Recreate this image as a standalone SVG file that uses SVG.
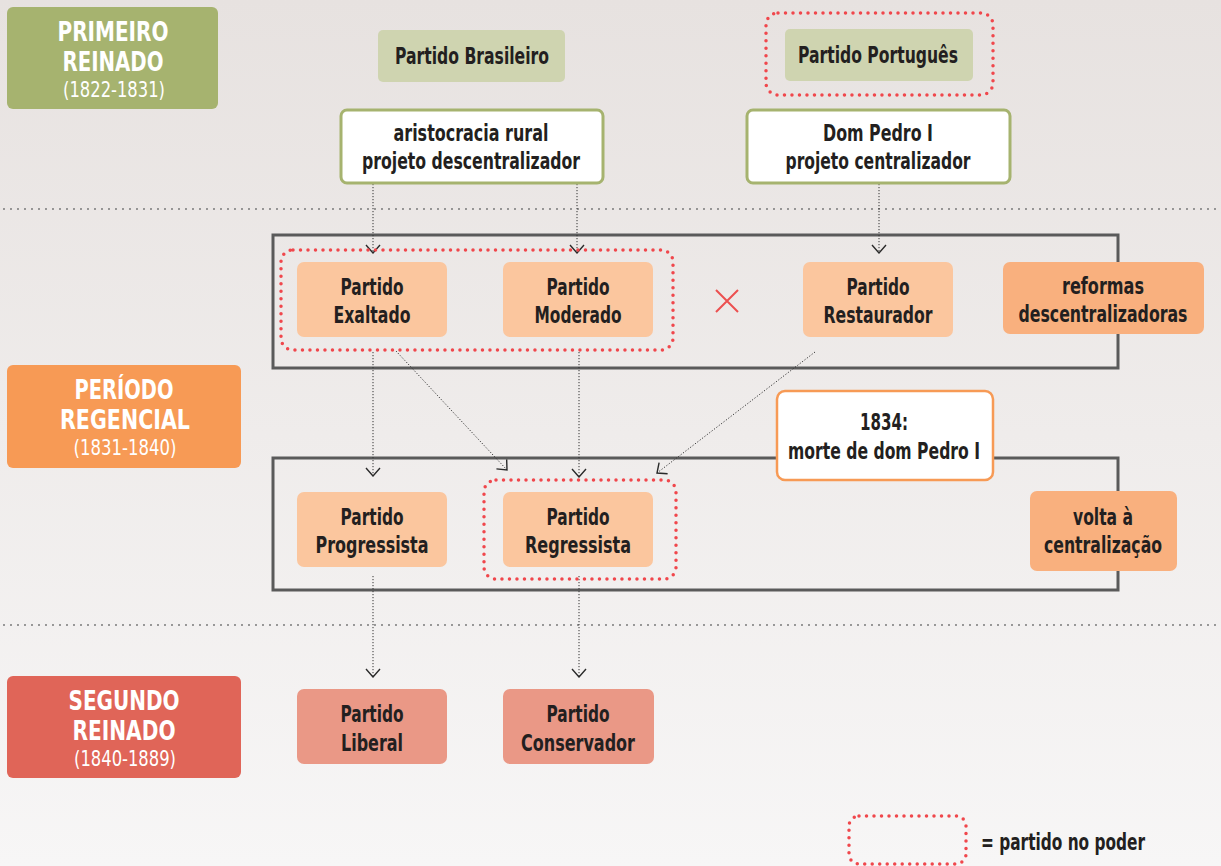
<svg xmlns="http://www.w3.org/2000/svg" width="1221" height="866" viewBox="0 0 1221 866">
  <defs>
    <linearGradient id="bg" x1="0" y1="0" x2="0" y2="1">
      <stop offset="0" stop-color="#e7e2e0"/>
      <stop offset="1" stop-color="#f7f6f6"/>
    </linearGradient>
    <marker id="chev" viewBox="0 0 10 16" refX="9" refY="8" markerWidth="10" markerHeight="16" markerUnits="userSpaceOnUse" orient="auto">
      <path d="M1 1 L9 8 L1 15" fill="none" stroke="#2a2a2a" stroke-width="1.4"/>
    </marker>
  </defs>
  <style>
    text { font-family: "DejaVu Sans Condensed", "Liberation Sans Narrow", "Liberation Sans", sans-serif; text-anchor: middle; }
    .lbl { font-size: 23px; font-weight: bold; fill: #231f20; }
    .era { font-size: 27px; font-weight: bold; fill: #ffffff; }
    .yrs { font-size: 21px; font-weight: 200; fill: #ffffff; }
    .power { fill: none; stroke: #f0474c; stroke-width: 3.5; stroke-linecap: round; stroke-dasharray: 0 7.5; }
    .frame { fill: none; stroke: #5a5a5a; stroke-width: 3; }
    .sep { stroke: #7a7a7a; stroke-width: 2; stroke-linecap: round; stroke-dasharray: 0 7; }
    .link { fill: none; stroke: #333; stroke-width: 1; stroke-dasharray: 1.2 1.8; }
    .arrow { marker-end: url(#chev); }
    .p1 { fill: #fbc69e; }
    .p2 { fill: #f9b07e; }
    .p3 { fill: #ea9886; }
  </style>

  <rect x="0" y="0" width="1221" height="866" fill="url(#bg)"/>

  <!-- period separators -->
  <line class="sep" x1="4" y1="209" x2="1221" y2="209"/>
  <line class="sep" x1="4" y1="625" x2="1221" y2="625"/>

  <!-- regency frames -->
  <rect class="frame" x="273" y="235" width="845" height="133"/>
  <rect class="frame" x="273" y="458" width="845" height="132"/>

  <!-- connectors -->
  <g id="connectors">
    <line class="link arrow" x1="373" y1="184" x2="373" y2="253"/>
    <line class="link arrow" x1="577" y1="184" x2="577" y2="253"/>
    <line class="link arrow" x1="879" y1="184" x2="879" y2="253"/>
    <line class="link arrow" x1="373" y1="352" x2="373" y2="476"/>
    <line class="link arrow" x1="396" y1="351" x2="507" y2="470"/>
    <line class="link arrow" x1="579" y1="352" x2="579" y2="477"/>
    <line class="link arrow" x1="815" y1="352" x2="657" y2="473"/>
    <line class="link arrow" x1="373" y1="576" x2="373" y2="677"/>
    <line class="link arrow" x1="579" y1="576" x2="579" y2="677"/>
  </g>

  <!-- era labels -->
  <g id="primeiro-reinado">
    <rect x="7" y="7" width="211" height="102" rx="6" fill="#a6b36f"/>
    <text class="era" x="113" y="41" textLength="111" lengthAdjust="spacingAndGlyphs">PRIMEIRO</text>
    <text class="era" x="113" y="71" textLength="101" lengthAdjust="spacingAndGlyphs">REINADO</text>
    <text class="yrs" x="114" y="97" textLength="102" lengthAdjust="spacingAndGlyphs">(1822-1831)</text>
  </g>
  <g id="periodo-regencial">
    <rect x="7" y="365" width="234" height="103" rx="6" fill="#f79a55"/>
    <text class="era" x="124" y="399" textLength="99" lengthAdjust="spacingAndGlyphs">PERÍODO</text>
    <text class="era" x="125" y="429" textLength="130" lengthAdjust="spacingAndGlyphs">REGENCIAL</text>
    <text class="yrs" x="125" y="455" textLength="103" lengthAdjust="spacingAndGlyphs">(1831-1840)</text>
  </g>
  <g id="segundo-reinado">
    <rect x="7" y="676" width="234" height="102" rx="6" fill="#e06558"/>
    <text class="era" x="124" y="710" textLength="111" lengthAdjust="spacingAndGlyphs">SEGUNDO</text>
    <text class="era" x="124" y="740" textLength="103" lengthAdjust="spacingAndGlyphs">REINADO</text>
    <text class="yrs" x="125" y="766" textLength="102" lengthAdjust="spacingAndGlyphs">(1840-1889)</text>
  </g>

  <!-- first reign parties -->
  <g id="partido-brasileiro">
    <rect x="378" y="30" width="187" height="52" rx="5" fill="#cfd4b0"/>
    <text class="lbl" x="472" y="64" textLength="154" lengthAdjust="spacingAndGlyphs">Partido Brasileiro</text>
  </g>
  <g id="partido-portugues">
    <rect class="power" x="766" y="13" width="227" height="82" rx="12"/>
    <rect x="785" y="29" width="188" height="52" rx="5" fill="#cfd4b0"/>
    <text class="lbl" x="878" y="63" textLength="160" lengthAdjust="spacingAndGlyphs">Partido Português</text>
  </g>
  <g id="aristocracia">
    <rect x="341" y="110" width="262" height="73" rx="6" fill="#fff" stroke="#a6b36f" stroke-width="3"/>
    <text class="lbl" x="471" y="141" textLength="155" lengthAdjust="spacingAndGlyphs">aristocracia rural</text>
    <text class="lbl" x="471" y="169" textLength="218" lengthAdjust="spacingAndGlyphs">projeto descentralizador</text>
  </g>
  <g id="dom-pedro">
    <rect x="747" y="110" width="263" height="73" rx="6" fill="#fff" stroke="#a6b36f" stroke-width="3"/>
    <text class="lbl" x="878" y="141" textLength="110" lengthAdjust="spacingAndGlyphs">Dom Pedro I</text>
    <text class="lbl" x="878" y="169" textLength="185" lengthAdjust="spacingAndGlyphs">projeto centralizador</text>
  </g>

  <!-- regency, first phase -->
  <rect class="power" x="281" y="250" width="392" height="100" rx="12"/>
  <g id="exaltado">
    <rect x="297" y="262" width="150" height="75" rx="7" class="p1"/>
    <text class="lbl" x="372" y="295" textLength="63" lengthAdjust="spacingAndGlyphs">Partido</text>
    <text class="lbl" x="372" y="323" textLength="77" lengthAdjust="spacingAndGlyphs">Exaltado</text>
  </g>
  <g id="moderado">
    <rect x="503" y="262" width="150" height="75" rx="7" class="p1"/>
    <text class="lbl" x="578" y="295" textLength="63" lengthAdjust="spacingAndGlyphs">Partido</text>
    <text class="lbl" x="578" y="323" textLength="87" lengthAdjust="spacingAndGlyphs">Moderado</text>
  </g>
  <g id="versus">
    <path d="M716 290 L738 312 M738 290 L716 312" stroke="#ec5050" stroke-width="2"/>
  </g>
  <g id="restaurador">
    <rect x="803" y="262" width="150" height="75" rx="7" class="p1"/>
    <text class="lbl" x="878" y="295" textLength="63" lengthAdjust="spacingAndGlyphs">Partido</text>
    <text class="lbl" x="878" y="323" textLength="109" lengthAdjust="spacingAndGlyphs">Restaurador</text>
  </g>
  <g id="reformas">
    <rect x="1003" y="262" width="201" height="72" rx="7" class="p2"/>
    <text class="lbl" x="1103" y="294" textLength="82" lengthAdjust="spacingAndGlyphs">reformas</text>
    <text class="lbl" x="1103" y="322" textLength="169" lengthAdjust="spacingAndGlyphs">descentralizadoras</text>
  </g>

  <!-- regency, second phase -->
  <g id="morte-pedro">
    <rect x="777" y="391" width="216" height="89" rx="8" fill="#fff" stroke="#f79a55" stroke-width="2.5"/>
    <text class="lbl" x="884" y="430" textLength="48" lengthAdjust="spacingAndGlyphs">1834:</text>
    <text class="lbl" x="884" y="459" textLength="192" lengthAdjust="spacingAndGlyphs">morte de dom Pedro I</text>
  </g>
  <g id="progressista">
    <rect x="297" y="492" width="150" height="75" rx="7" class="p1"/>
    <text class="lbl" x="372" y="525" textLength="63" lengthAdjust="spacingAndGlyphs">Partido</text>
    <text class="lbl" x="372" y="553" textLength="113" lengthAdjust="spacingAndGlyphs">Progressista</text>
  </g>
  <g id="regressista">
    <rect class="power" x="484" y="480" width="192" height="99" rx="12"/>
    <rect x="503" y="492" width="150" height="75" rx="7" class="p1"/>
    <text class="lbl" x="578" y="525" textLength="63" lengthAdjust="spacingAndGlyphs">Partido</text>
    <text class="lbl" x="578" y="553" textLength="106" lengthAdjust="spacingAndGlyphs">Regressista</text>
  </g>
  <g id="volta-centralizacao">
    <rect x="1030" y="491" width="147" height="80" rx="7" class="p2"/>
    <text class="lbl" x="1103" y="525" textLength="60" lengthAdjust="spacingAndGlyphs">volta à</text>
    <text class="lbl" x="1103" y="553" textLength="118" lengthAdjust="spacingAndGlyphs">centralização</text>
  </g>

  <!-- second reign parties -->
  <g id="liberal">
    <rect x="297" y="689" width="150" height="75" rx="7" class="p3"/>
    <text class="lbl" x="372" y="722" textLength="63" lengthAdjust="spacingAndGlyphs">Partido</text>
    <text class="lbl" x="372" y="751" textLength="62" lengthAdjust="spacingAndGlyphs">Liberal</text>
  </g>
  <g id="conservador">
    <rect x="503" y="689" width="151" height="75" rx="7" class="p3"/>
    <text class="lbl" x="578" y="722" textLength="63" lengthAdjust="spacingAndGlyphs">Partido</text>
    <text class="lbl" x="578" y="751" textLength="114" lengthAdjust="spacingAndGlyphs">Conservador</text>
  </g>

  <!-- legend -->
  <g id="legenda">
    <rect class="power" x="849" y="816" width="117" height="48" rx="10"/>
    <text class="lbl" x="981" y="850" textLength="164" lengthAdjust="spacingAndGlyphs" style="text-anchor:start">= partido no poder</text>
  </g>
</svg>
